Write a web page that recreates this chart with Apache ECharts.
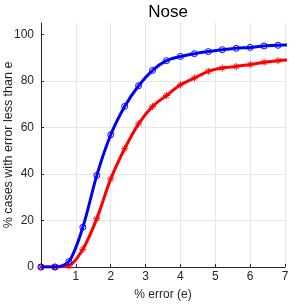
<!DOCTYPE html>
<html><head><meta charset="utf-8">
<script src="https://cdn.jsdelivr.net/npm/echarts@6/dist/echarts.min.js"></script>
<style>html,body{margin:0;padding:0;background:#fff}#c{width:305px;height:305px}</style>
</head><body><div id="c"></div>
<script>
const xs = [0, 0.4, 0.8, 1.2, 1.6, 2.0, 2.4, 2.8, 3.2, 3.6, 4.0, 4.4, 4.8, 5.2, 5.6, 6.0, 6.4, 6.8, 7.2];
const blueVals = [0, 0, 2.3, 17.1, 39.4, 56.9, 69.1, 78.0, 84.6, 88.8, 90.6, 91.8, 92.7, 93.5, 94.1, 94.5, 95.1, 95.4, 95.6];
const redVals = [0, 0, 0.5, 7.6, 20.8, 37.9, 50.9, 61.6, 69.1, 73.8, 78.4, 81.3, 84.2, 85.6, 86.3, 87.1, 88.1, 88.8, 89.2];
const xTickLabels = ['', '1', '2', '3', '4', '5', '6', '7'];
const yTicks = [0, 20, 40, 60, 80, 100];
const title = 'Nose';
const xName = '% error (e)';
const yName = '% cases with error less than e';

const font = 'Liberation Sans, Arial, sans-serif';
const txt = '#262626';
const asterisk = 'path://M0,-10L0,10M-10,0L10,0M-7,-7L7,7M-7,7L7,-7';
const chart = echarts.init(document.getElementById('c'), null, {renderer: 'canvas'});
chart.setOption({
  animation: false,
  title: {text: title, left: 163, top: -1, textAlign: 'center',
    textStyle: {fontFamily: font, fontWeight: 'normal', fontSize: 17, color: '#000'}},
  grid: {left: 41, right: 20, top: 23, bottom: 38, outerBoundsMode: 'none', containLabel: false},
  xAxis: {type: 'value', min: 0, max: 7, interval: 1,
    name: xName, nameLocation: 'middle', nameGap: 22, nameMoveOverlap: false,
    nameTextStyle: {fontFamily: font, fontSize: 12, color: txt},
    axisLine: {lineStyle: {color: txt, width: 1}},
    axisTick: {inside: true, length: 3, lineStyle: {color: txt}},
    axisLabel: {fontFamily: font, fontSize: 12, color: txt, margin: 4,
      formatter: v => xTickLabels[Math.round(v)] || ''},
    splitLine: {show: true, lineStyle: {color: '#e6e6e6', width: 1}}},
  yAxis: {type: 'value', min: 0, max: 105, interval: 20,
    name: yName, nameLocation: 'middle', nameGap: 26, nameMoveOverlap: false,
    nameTextStyle: {fontFamily: font, fontSize: 12.5, color: txt},
    axisLine: {show: true, lineStyle: {color: txt, width: 1}},
    axisTick: {show: true, inside: true, length: 3, lineStyle: {color: txt}, customValues: yTicks},
    axisLabel: {fontFamily: font, fontSize: 12, color: txt, margin: 7, customValues: yTicks,
      formatter: v => (v % 20 === 0 ? String(v) : '')},
    splitLine: {show: true, showMaxLine: false, lineStyle: {color: '#e6e6e6', width: 1}}},
  series: [
    {type: 'line', data: xs.map((x, i) => [x, redVals[i]]), smooth: 0.3, clip: true,
     lineStyle: {color: '#ff0000', width: 3}, symbol: asterisk, symbolSize: 7,
     itemStyle: {color: 'rgba(0,0,0,0)', borderColor: '#ff0000', borderWidth: 1}, z: 3},
    {type: 'line', data: xs.map((x, i) => [x, blueVals[i]]), smooth: 0.3, clip: true,
     lineStyle: {color: '#0000ff', width: 3}, symbol: 'circle', symbolSize: 6,
     itemStyle: {color: 'rgba(0,0,0,0)', borderColor: '#0000ff', borderWidth: 1}, z: 4}
  ]
});
</script></body></html>
